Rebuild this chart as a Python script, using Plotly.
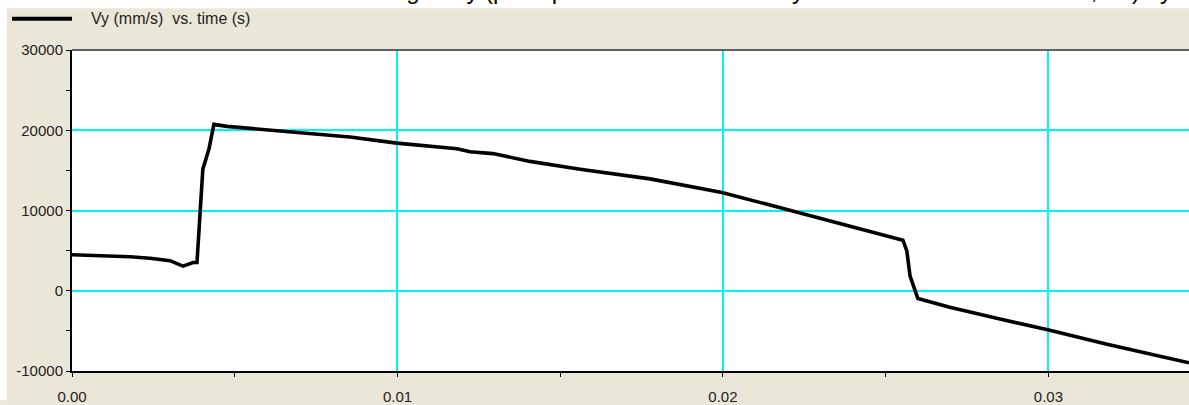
import plotly.graph_objects as go

# Data
time_s = [0.0, 0.001167, 0.00178, 0.002396, 0.00301, 0.00341, 0.00372, 0.00384,
          0.00393, 0.00402, 0.00421, 0.00436, 0.00476, 0.00854, 0.00998, 0.01183,
          0.01223, 0.01293, 0.01407, 0.01561, 0.01776, 0.01997, 0.02237, 0.0239,
          0.02553, 0.02565, 0.02575, 0.02599, 0.02697, 0.02851, 0.02998, 0.0318, 0.03432]
vy_mm_s = [4485, 4360, 4240, 4050, 3750, 3070, 3515, 3515,
           10060, 15150, 17700, 20730, 20480, 19150, 18400, 17700,
           17330, 17090, 16120, 15150, 13940, 12240, 9700, 8000,
           6300, 4970, 1820, -970, -2060, -3520, -4850, -6670, -8970]

series_name = "Vy (mm/s)\u00a0\u00a0vs. time (s)"
title_text = "Falling body (point p2 at center of the body in the free fall motion tests, Vz) by time"
x_ticks = [0.0, 0.01, 0.02, 0.03]
x_tick_labels = ["0.00", "0.01", "0.02", "0.03"]
y_ticks = [-10000, 0, 10000, 20000, 30000]
y_tick_labels = ["-10000", "0", "10000", "20000", "30000"]

W, H = 1189, 405
ML, MR, MT, MB = 72, 0, 50, 25
pw = W - ML - MR
ph = H - MT - MB


def px_x(p):
    return (p - ML) / pw


def px_y(p):
    return (H - MB - p) / ph


fig = go.Figure()
fig.add_trace(go.Scatter(x=time_s, y=vy_mm_s, mode="lines", name=series_name,
                         line=dict(color="black", width=3.6), showlegend=False))

beige = "#EBE7D8"
fig.update_layout(
    width=W, height=H,
    margin=dict(l=ML, r=MR, t=MT, b=MB),
    paper_bgcolor=beige,
    plot_bgcolor="white",
    font=dict(family="Arial, Liberation Sans, sans-serif", size=15, color="#222"),
    shapes=[
        # white page strip along the top and left edge
        dict(type="rect", xref="paper", yref="paper", x0=px_x(0), x1=px_x(W + 5),
             y0=px_y(7), y1=px_y(-5), fillcolor="white", line=dict(width=0), layer="below"),
        dict(type="rect", xref="paper", yref="paper", x0=px_x(-5), x1=px_x(7),
             y0=px_y(H + 5), y1=px_y(-5), fillcolor="white", line=dict(width=0), layer="below"),
        # top border of plot area
        dict(type="line", xref="paper", yref="paper", x0=0, x1=1, y0=1, y1=1,
             line=dict(color="#606060", width=2)),
        # legend sample line
        dict(type="line", xref="paper", yref="paper",
             x0=px_x(12), x1=px_x(72), y0=px_y(18), y1=px_y(18),
             line=dict(color="black", width=4)),
    ],
    annotations=[
        dict(text=series_name, xref="paper", yref="paper",
             x=px_x(89), y=px_y(18), xanchor="left", yanchor="middle",
             showarrow=False, font=dict(size=16, color="#222")),
        dict(text=title_text, xref="paper", yref="paper",
             x=px_x(347), y=px_y(5), xanchor="left", yanchor="bottom",
             showarrow=False, font=dict(size=24, color="black")),
    ],
)

fig.update_xaxes(
    range=[0, 0.03432], tickvals=x_ticks, ticktext=x_tick_labels,
    showgrid=True, gridcolor="#00F5F5", gridwidth=1.5, zeroline=False,
    showline=True, linecolor="black", linewidth=2,
    ticks="outside", ticklen=4, tickcolor="black",
    minor=dict(dtick=0.005, tick0=0, ticks="outside", ticklen=4, tickcolor="black", showgrid=False),
    ticklabelstandoff=7,
)
fig.update_yaxes(
    range=[-10000, 30000], tickvals=y_ticks, ticktext=y_tick_labels,
    showgrid=True, gridcolor="#00F5F5", gridwidth=1.5, zeroline=False,
    showline=True, linecolor="black", linewidth=2,
    ticks="outside", ticklen=4, tickcolor="black",
    minor=dict(dtick=5000, tick0=0, ticks="outside", ticklen=4, tickcolor="black", showgrid=False),
)

fig.write_html("out.html", config={"displayModeBar": False},
               post_script="document.body.style.margin='0px';document.body.style.overflow='hidden';")
